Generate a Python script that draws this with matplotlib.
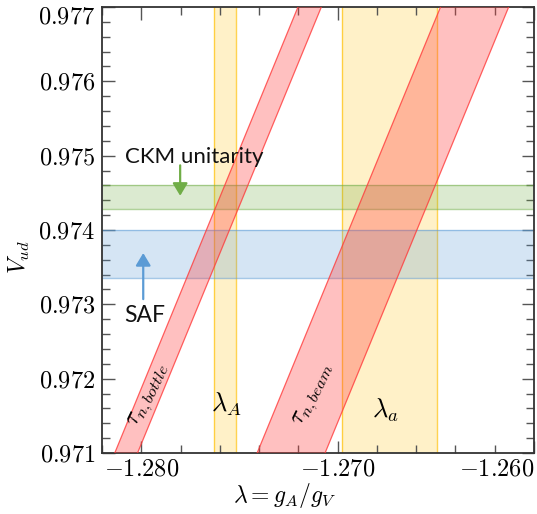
import numpy as np
import matplotlib
matplotlib.use('Agg')
import matplotlib.pyplot as plt
import matplotlib.ticker as ticker

plt.rcParams['mathtext.fontset'] = 'cm'
plt.rcParams['font.family'] = ['Lato', 'DejaVu Sans']

# data
vud_ends = [0.971, 0.977]
bottle_left = [-1.28135, -1.27202]
bottle_right = [-1.28019, -1.27083]
beam_left = [-1.27410, -1.26476]
beam_right = [-1.27064, -1.26129]

lambda_A = [-1.2763, -1.2752]
lambda_a = [-1.2698, -1.26495]

ckm_band = [0.97428, 0.97460]
saf_band = [0.97335, 0.97400]

xlim = (-1.282, -1.260)
ylim = (0.971, 0.977)

red = '#ff3b3b'
gold = '#ffc107'
green = '#70ad47'
blue = '#5b9bd5'

fig = plt.figure(figsize=(5.37, 5.14), dpi=100)
ax = fig.add_axes([102/537, 1-453/514, 432/537, 446/514])

# vertical lambda bands
for band in (lambda_A, lambda_a):
    ax.axvspan(band[0], band[1], facecolor=gold, alpha=0.22, edgecolor='none', zorder=1)
    for b in band:
        ax.axvline(b, color=gold, lw=1.0, alpha=0.7, zorder=1)

# horizontal V_ud bands
for band, col in ((ckm_band, green), (saf_band, blue)):
    ax.axhspan(band[0], band[1], facecolor=col, alpha=0.25, edgecolor='none', zorder=2)
    for b in band:
        ax.axhline(b, color=col, lw=1.0, alpha=0.55, zorder=2)

# neutron lifetime bands
for lo, hi in ((bottle_left, bottle_right), (beam_left, beam_right)):
    ax.fill_betweenx(vud_ends, lo, hi, facecolor=red, alpha=0.32, edgecolor='none', zorder=3)
    ax.plot(lo, vud_ends, color=red, lw=0.9, alpha=0.8, zorder=3)
    ax.plot(hi, vud_ends, color=red, lw=0.9, alpha=0.8, zorder=3)

# annotations
ax.text(-1.27729, 0.974901, 'CKM unitarity', fontsize=16, ha='center', va='baseline',
        color='#111111', zorder=5)
ax.annotate('', xy=(-1.27802, 0.97446), xytext=(-1.27802, 0.97487),
            arrowprops=dict(arrowstyle='-|>,head_length=0.5,head_width=0.3', color=green,
                            lw=1.6, mutation_scale=15, shrinkA=0, shrinkB=0), zorder=5)
ax.text(-1.27985, 0.972762, 'SAF', fontsize=16.5, ha='center', va='baseline',
        color='#111111', zorder=5)
ax.annotate('', xy=(-1.27990, 0.97369), xytext=(-1.27990, 0.97307),
            arrowprops=dict(arrowstyle='-|>,head_length=0.5,head_width=0.3', color=blue,
                            lw=1.6, mutation_scale=15, shrinkA=0, shrinkB=0), zorder=5)

ax.text(-1.27959, 0.97177, r'$\tau_{n,bottle}$', fontsize=17, rotation=64,
        ha='center', va='center', zorder=5)
ax.text(-1.27120, 0.97178, r'$\tau_{n,beam}$', fontsize=17, rotation=64,
        ha='center', va='center', zorder=5)
ax.text(-1.27565, 0.97165, r'$\lambda_A$', fontsize=19, ha='center', va='center', zorder=5)
ax.text(-1.26757, 0.97157, r'$\lambda_a$', fontsize=19, ha='center', va='center', zorder=5)

ax.set_xlim(*xlim)
ax.set_ylim(*ylim)

ax.xaxis.set_major_locator(ticker.MultipleLocator(0.010))
ax.xaxis.set_minor_locator(ticker.MultipleLocator(0.002))
ax.yaxis.set_major_locator(ticker.MultipleLocator(0.001))
ax.yaxis.set_minor_locator(ticker.MultipleLocator(0.0002))
ax.xaxis.set_major_formatter(ticker.FuncFormatter(lambda v, p: f'${v:.3f}$'))
ax.yaxis.set_major_formatter(ticker.FuncFormatter(lambda v, p: f'${v:.3f}$'))

ax.tick_params(which='both', direction='in', top=True, right=True, color='#555555', width=1.0)
ax.tick_params(which='major', length=9, labelsize=17.5)
ax.tick_params(which='minor', length=5.5)
ax.tick_params(axis='x', which='major', pad=4)
ax.tick_params(axis='y', which='major', pad=5)

for s in ax.spines.values():
    s.set_color('#333333')
    s.set_linewidth(1.3)

ax.set_xlabel(r'$\lambda = g_A/g_V$', fontsize=17)
ax.xaxis.set_label_coords(0.424, -0.062)
ax.set_ylabel(r'$V_{ud}$', fontsize=17)
ax.yaxis.set_label_coords(-0.162, 0.44)

fig.canvas.draw()
for lab in ax.get_xticklabels():
    if lab.get_text() == '$-1.260$':
        lab.set_ha('right')
for lab in ax.get_yticklabels():
    if lab.get_text() == '$0.977$':
        lab.set_va('top')

fig.savefig('out.png', dpi=100)
